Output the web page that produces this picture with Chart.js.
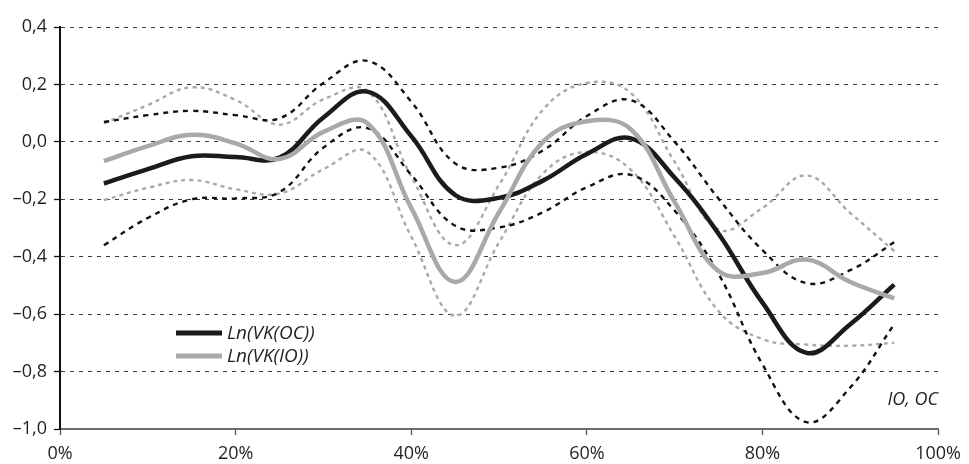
<!DOCTYPE html>
<html>
<head>
<meta charset="utf-8">
<title>Ln(VK(OC)) / Ln(VK(IO))</title>
<script src="https://cdn.jsdelivr.net/npm/chart.js@4.4.1/dist/chart.umd.min.js"></script>
<style>
  body { margin: 0; background: #fff; }
  #wrap { width: 969px; height: 464px; }
</style>
</head>
<body>
<div id="wrap"><canvas id="chart" width="969" height="464"></canvas></div>
<script>
// share (in %) along the x axis
const shares = [5, 10, 15, 20, 25, 30, 35, 40, 45, 50, 55, 60, 65, 70, 75, 80, 85, 90, 95];

// Ln(VK(OC)) and its band
const lnOC     = [-0.145, -0.095, -0.050, -0.053, -0.055, 0.085, 0.175, 0.020, -0.185, -0.195, -0.135, -0.042, 0.012, -0.125, -0.320, -0.560, -0.735, -0.635, -0.497];
const lnOCHigh = [0.069, 0.093, 0.108, 0.093, 0.082, 0.205, 0.282, 0.140, -0.075, -0.090, -0.030, 0.090, 0.145, 0.000, -0.198, -0.377, -0.492, -0.447, -0.350];
const lnOCLow  = [-0.360, -0.265, -0.200, -0.197, -0.175, -0.020, 0.048, -0.115, -0.292, -0.298, -0.245, -0.158, -0.115, -0.240, -0.460, -0.775, -0.976, -0.855, -0.635];

// Ln(VK(IO)) and its band
const lnIO     = [-0.067, -0.015, 0.025, -0.005, -0.060, 0.035, 0.065, -0.230, -0.488, -0.245, 0.000, 0.072, 0.044, -0.210, -0.450, -0.457, -0.410, -0.488, -0.545];
const lnIOHigh = [0.065, 0.128, 0.190, 0.146, 0.060, 0.148, 0.178, -0.120, -0.360, -0.150, 0.112, 0.205, 0.170, -0.070, -0.305, -0.230, -0.117, -0.248, -0.380];
const lnIOLow  = [-0.203, -0.160, -0.133, -0.165, -0.180, -0.095, -0.035, -0.330, -0.605, -0.350, -0.110, -0.035, -0.097, -0.330, -0.590, -0.687, -0.706, -0.710, -0.700];

// axis ticks
const xTicks = [0, 20, 40, 60, 80, 100];
const yTicks = [-1.0, -0.8, -0.6, -0.4, -0.2, 0.0, 0.2, 0.4];

const BLACK = '#1c1a1b';
const GREY = '#a9a9aa';
const TEXT = '#231f20';
const FONT = '"Open Sans", "Noto Sans", sans-serif';

function points(values) {
  return shares.map((x, i) => ({ x: x, y: values[i] }));
}

function solid(label, values, color, order) {
  return { label: label, data: points(values), borderColor: color, borderWidth: 4.5,
    pointRadius: 0, tension: 0.4, fill: false, order: order };
}

function dashed(values, color, dash, order) {
  return { label: '', data: points(values), borderColor: color, borderWidth: 2.4,
    borderDash: dash, pointRadius: 0, tension: 0.4, fill: false, order: order };
}

// legend inside the plot and the axis caption bottom right
const overlay = {
  id: 'overlay',
  afterDatasetsDraw(chart) {
    const ctx = chart.ctx;
    const rows = [chart.data.datasets[0], chart.data.datasets[1]];
    ctx.save();
    ctx.font = 'italic 19px ' + FONT;
    ctx.textBaseline = 'middle';
    ctx.fillStyle = TEXT;
    rows.forEach((ds, i) => {
      const y = 333 + i * 23;
      ctx.strokeStyle = ds.borderColor;
      ctx.lineWidth = 5;
      ctx.beginPath();
      ctx.moveTo(176, y);
      ctx.lineTo(222, y);
      ctx.stroke();
      ctx.fillText(ds.label, 227, y + 1);
    });
    ctx.font = 'italic 18px ' + FONT;
    ctx.textAlign = 'right';
    ctx.fillText('IO, OC', 938, 400);
    ctx.restore();
  }
};

new Chart(document.getElementById('chart'), {
  type: 'line',
  data: {
    datasets: [
      solid('Ln(VK(OC))', lnOC, BLACK, 1),
      solid('Ln(VK(IO))', lnIO, GREY, 0),
      dashed(lnOCHigh, '#111', [5, 5], 2),
      dashed(lnOCLow, '#111', [5, 5], 3),
      dashed(lnIOHigh, GREY, [4, 4], 4),
      dashed(lnIOLow, GREY, [4, 4], 5)
    ]
  },
  options: {
    responsive: false,
    animation: false,
    layout: { padding: { top: 27, right: 23, left: 0, bottom: 0 } },
    plugins: {
      legend: { display: false },
      tooltip: { enabled: false }
    },
    scales: {
      x: {
        type: 'linear',
        min: 0,
        max: 100,
        afterBuildTicks: (scale) => { scale.ticks = xTicks.map(v => ({ value: v })); },
        afterFit: (scale) => { scale.height = 35; },
        ticks: {
          color: TEXT,
          font: { family: FONT, size: 18 },
          padding: 8,
          maxRotation: 0,
          callback: (v) => v + '%'
        },
        grid: { drawOnChartArea: false, drawTicks: true, tickLength: 6, tickColor: '#555', tickWidth: 1.3 },
        border: { color: '#6d6d6d', width: 2 }
      },
      y: {
        min: -1.0,
        max: 0.4,
        afterBuildTicks: (scale) => { scale.ticks = yTicks.map(v => ({ value: v })); },
        afterFit: (scale) => { scale.width = 60; },
        ticks: {
          color: TEXT,
          font: { family: FONT, size: 18 },
          padding: 7,
          callback: (v) => v.toFixed(1).replace('.', ',').replace('-', '\u2013')
        },
        grid: { color: '#3a3a3a', lineWidth: 1, drawTicks: true, tickLength: 6,
          tickColor: '#111', tickWidth: 1.3, tickBorderDash: [] },
        border: { color: '#111', width: 2, dash: [4, 5] }
      }
    }
  },
  plugins: [overlay]
});
</script>
</body>
</html>
